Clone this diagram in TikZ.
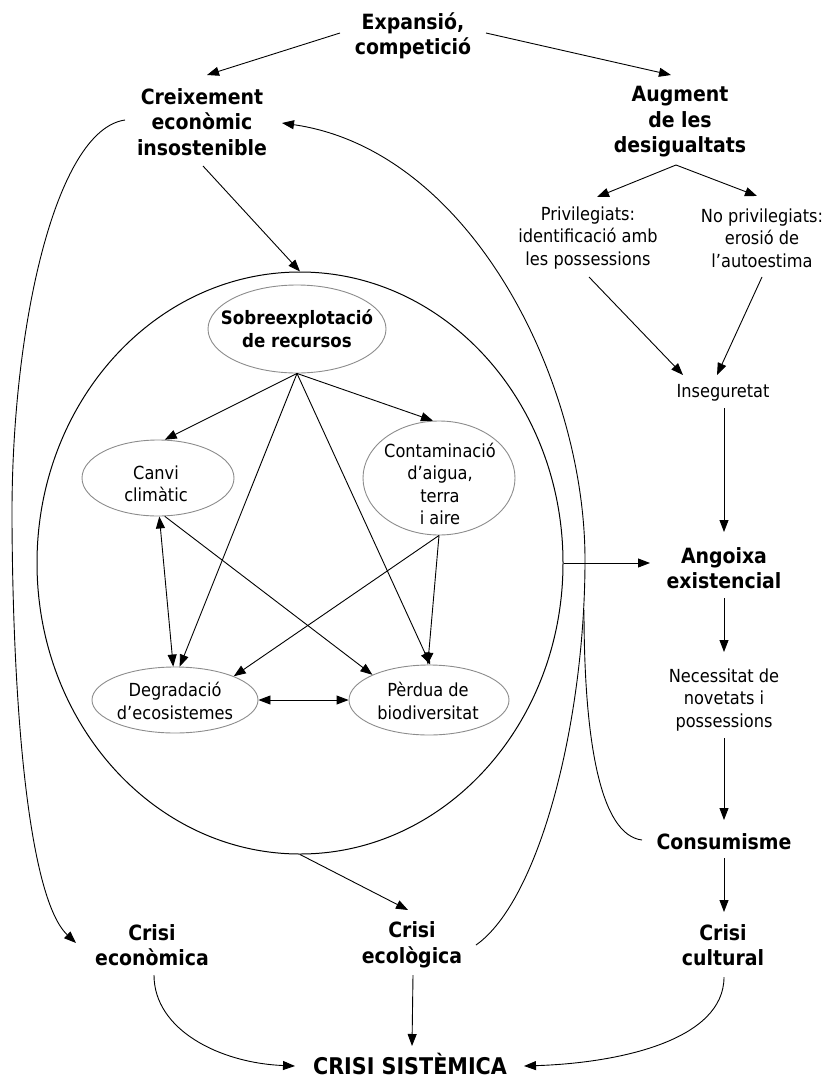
\documentclass[tikz,border=0pt]{standalone}
\usepackage{fontspec}
\setmainfont{DejaVu Sans Condensed}
\usetikzlibrary{arrows.meta,shapes.geometric}
\begin{document}
\begin{tikzpicture}[x=1pt,y=-1pt,
  hb/.style={font=\bfseries\fontsize{21}{25.5}\selectfont, align=center, inner sep=0pt},
  rt/.style={font=\fontsize{18}{22.5}\selectfont, align=center, inner sep=0pt},
  ib/.style={font=\bfseries\fontsize{18.5}{23}\selectfont, align=center, inner sep=0pt},
  inell/.style={draw=black!45, line width=0.9pt, ellipse, inner sep=0pt},
  bigell/.style={draw, line width=1pt, ellipse, inner sep=0pt},
  arr/.style={-{Triangle[length=12pt,width=9pt]}, line width=0.9pt},
  darr/.style={{Triangle[length=12pt,width=9pt]}-{Triangle[length=12pt,width=9pt]}, line width=0.9pt},
  ln/.style={line width=0.9pt}]
\useasboundingbox (0,0) rectangle (825,1081);

% text nodes
\node[hb] (exp) at (413,36) {Expansió,\\competició};
\node[hb] (creix) at (202,122) {Creixement\\econòmic\\insostenible};
\node[hb] (aug) at (680,122) {Augment\\de les\\desigualtats};
\node[rt] (priv) at (588,238) {Privilegiats:\\identificació amb\\les possessions};
\node[rt] (nopriv) at (762,238) {No privilegiats:\\erosió de\\l’autoestima};
\node[rt] (inseg) at (723,393) {Inseguretat};
\node[hb] (ango) at (724,568) {Angoixa\\existencial};
\node[rt] (neces) at (724,700) {Necessitat de\\novetats i\\possessions};
\node[hb] (cons) at (724,842) {Consumisme};
\node[hb] (ccult) at (723,945) {Crisi\\cultural};
\node[hb] (cecon) at (152,945) {Crisi\\econòmica};
\node[hb] (cecol) at (412,945) {Crisi\\ecològica};
\node[hb, font=\bfseries\fontsize{23}{27}\selectfont] (csis) at (410,1064) {CRISI SISTÈMICA};

% big ellipse
\node[bigell, minimum width=526pt, minimum height=582pt] (eco) at (300,563) {};

% inner ellipses
\node[inell, minimum width=178pt, minimum height=88pt] (sobre) at (297,329) {};
\node[ib] (sobreT) at (297,329) {Sobreexplotació\\de recursos};
\node[inell, minimum width=152pt, minimum height=76pt] (canvi) at (158,478) {};
\node[rt] (canviT) at (156,484) {Canvi\\climàtic};
\node[inell, minimum width=152pt, minimum height=114pt] (contam) at (439,478) {};
\node[rt] (contamT) at (440,484) {Contaminació\\d’aigua,\\terra\\i aire};
\node[inell, minimum width=166pt, minimum height=66pt] (degr) at (175,700) {};
\node[rt] (degrT) at (175,701) {Degradació\\d’ecosistemes};
\node[inell, minimum width=160pt, minimum height=70pt] (perdua) at (429,700) {};
\node[rt] (perduaT) at (428,701) {Pèrdua de\\biodiversitat};

% inner connectors
\draw[arr] (sobre.south) -- (canvi.80);
\draw[arr] (sobre.south) -- (contam.96);
\draw[arr] (sobre.south) -- (degr.82);
\draw[arr] (sobre.south) -- (perdua.88);
\draw[darr] (canvi.-88) -- (degr.93);
\draw[arr] (canvi.-80) -- (perdua.156);
\draw[arr] (contam.south) -- (degr.22);
\draw[arr] (contam.south) -- (perdua.92);
\draw[darr] (degr.east) -- (perdua.west);

% outer connectors
\draw[arr] ([shift={(-73,-3)}]exp.center) -- ([shift={(5,-47)}]creix.center);
\draw[arr] ([shift={(73,-3)}]exp.center) -- ([shift={(-9,-47)}]aug.center);
\draw[arr] ([shift={(-4,43)}]aug.center) -- ([shift={(9,-41)}]priv.center);
\draw[arr] ([shift={(-4,43)}]aug.center) -- ([shift={(-5,-42)}]nopriv.center);
\draw[arr] ([shift={(1,39)}]priv.center) -- ([shift={(-40,-18)}]inseg.center);
\draw[arr] ([shift={(0,39)}]nopriv.center) -- ([shift={(-6,-18)}]inseg.center);
\draw[arr] ([shift={(1,15)}]inseg.center) -- ([shift={(0,-36)}]ango.center);
\draw[arr] ([shift={(0,30)}]ango.center) -- ([shift={(0,-48)}]neces.center);
\draw[arr] ([shift={(0,38)}]neces.center) -- ([shift={(0,-22)}]cons.center);
\draw[arr] ([shift={(0,16)}]cons.center) -- ([shift={(1,-33)}]ccult.center);
\draw[arr] ([shift={(1,44)}]creix.center) -- (eco.north);
\draw[arr] (eco.south) -- ([shift={(-4,-35)}]cecol.center);
\draw[arr] (eco.east) -- ([shift={(-74,-5)}]ango.center);
\draw[arr] ([shift={(2,30)}]cecon.center) .. controls (154,1030) and (220,1063) .. ([shift={(-115,2)}]csis.center);
\draw[arr] ([shift={(1,30)}]cecol.center) -- ([shift={(2,-18)}]csis.center);
\draw[arr] ([shift={(1,32)}]ccult.center) .. controls (724,1040) and (620,1063) .. ([shift={(114,2)}]csis.center);

\coordinate (lbend) at (12,520);
\coordinate (rbend) at (585,560);
\coordinate (join) at (584,610);
\draw[arr] ([shift={(-77,-2)}]creix.center) .. controls (55,130) and (11,330) .. (lbend) .. controls (13,720) and (30,900) .. ([shift={(-76,-2)}]cecon.center);
\draw[arr] ([shift={(64,0)}]cecol.center) .. controls (540,900) and (585,720) .. (rbend) .. controls (585,380) and (470,150) .. ([shift={(80,1)}]creix.center);
\draw[ln] ([shift={(-82,-2)}]cons.center) .. controls (600,835) and (584,740) .. (join);
\end{tikzpicture}
\end{document}
